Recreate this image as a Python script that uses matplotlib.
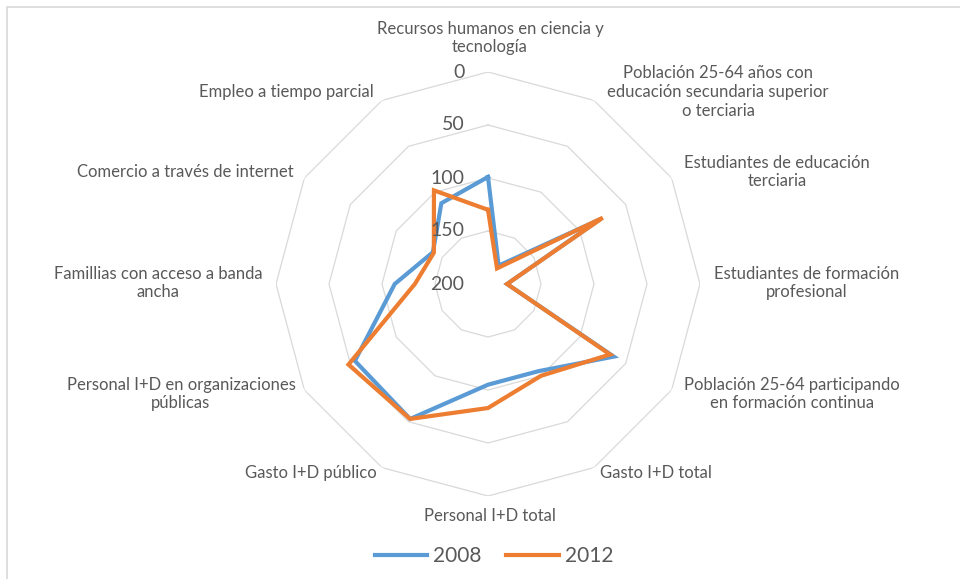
import numpy as np
import matplotlib.pyplot as plt
from matplotlib.patches import Rectangle

plt.rcParams['font.family'] = ['Lato', 'DejaVu Sans']

# Data (radial axis reversed: 0 outside, 200 at centre)
categories = [
    "Recursos humanos en ciencia y\ntecnología",
    "Población 25-64 años con\neducación secundaria superior\no terciaria",
    "Estudiantes de educación\nterciaria",
    "Estudiantes de formación\nprofesional",
    "Población 25-64 participando\nen formación continua",
    "Gasto I+D total",
    "Personal I+D total",
    "Gasto I+D público",
    "Personal I+D en organizaciones\npúblicas",
    "Famillias con acceso a banda\nancha",
    "Comercio a través de internet",
    "Empleo a tiempo parcial",
]
values_2008 = [99, 180, 78, 182, 63, 105, 105, 53, 55, 112, 140, 112]
values_2012 = [130, 183, 75, 182, 67, 100, 83, 53, 48, 131, 141, 98]
ring_values = [0, 50, 100, 150, 200]

# label centres in figure pixels (x, y from top)
label_pos = [(490, 38), (718, 92), (777, 172), (807, 283), (792, 394), (656, 473),
             (490, 516), (311, 473), (181, 394), (158, 283), (185, 172), (286, 92)]

text_color = "#595959"
grid_color = "#D9D9D9"
blue = "#5B9BD5"
orange = "#ED7D31"

W, H = 960, 579
fig = plt.figure(figsize=(W / 100, H / 100), dpi=100)
cx, cy, R = 488, 284, 212
ax = fig.add_axes([(cx - R) / W, (H - cy - R) / H, 2 * R / W, 2 * R / H], projection='polar')
ax.set_theta_zero_location('N')
ax.set_theta_direction(-1)
ax.set_ylim(200, 0)

n = len(categories)
theta = np.linspace(0, 2 * np.pi, n, endpoint=False)
theta_c = np.append(theta, theta[0])

# polygon grid
for rv in ring_values[:-1]:
    ax.plot(theta_c, [rv] * (n + 1), color=grid_color, lw=0.9, zorder=1)

ax.grid(False)
ax.spines['polar'].set_visible(False)
ax.set_xticks([])
ax.set_yticks([])
ax.patch.set_alpha(0)

ax.plot(theta_c, values_2008 + values_2008[:1], color=blue, lw=3, label="2008",
        solid_joinstyle='miter', zorder=3)
ax.plot(theta_c, values_2012 + values_2012[:1], color=orange, lw=3, label="2012",
        solid_joinstyle='miter', zorder=4)

# radial tick labels
for rv in ring_values:
    ax.annotate(str(rv), xy=(0, rv), xytext=(-17, 0), textcoords='offset points',
                ha='right', va='center', fontsize=14, color=text_color, zorder=5)

for lab, (px, py) in zip(categories, label_pos):
    fig.text(px / W, 1 - py / H, lab, ha='center', va='center', fontsize=12,
             color=text_color, linespacing=1.2)

leg = fig.legend(loc='center', bbox_to_anchor=(494 / W, 1 - 556 / H), ncol=2,
                 frameon=False, fontsize=15, handlelength=2.5, columnspacing=1.2,
                 handletextpad=0.3)
for t in leg.get_texts():
    t.set_color(text_color)

fig.patches.append(Rectangle((7 / W, -0.1), 1.2, (H - 7) / H + 0.1, transform=fig.transFigure,
                             fill=False, edgecolor=grid_color, lw=1.2))

fig.savefig("out.png", dpi=100)
